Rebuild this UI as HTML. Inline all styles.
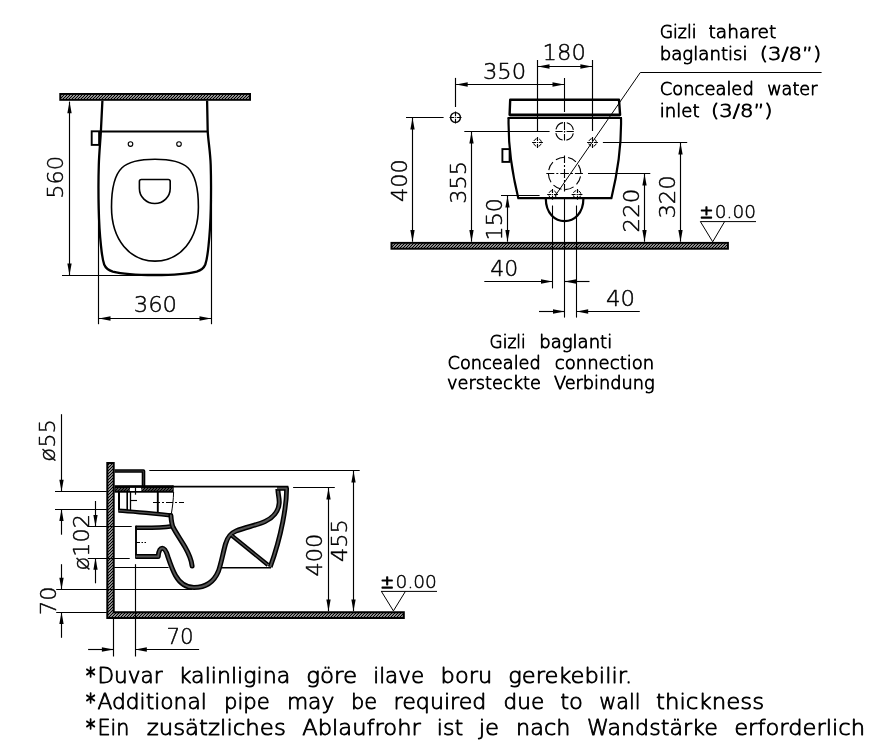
<!DOCTYPE html>
<html lang="tr">
<head>
<meta charset="utf-8">
<title>Technical drawing</title>
<style>
html,body{margin:0;padding:0;background:#fff;}
body{width:882px;height:754px;overflow:hidden;}
svg{display:block;will-change:transform;}
svg path,svg line,svg circle,svg ellipse{fill:none;stroke:#000;}
svg .ar{fill:#000;stroke:none;}
svg .t{font-family:"DejaVu Sans", "Liberation Sans", sans-serif;font-weight:200;fill:#000;stroke:#000;stroke-width:0.45px;stroke-linejoin:round;}
svg .l{stroke-width:0.85px;}
svg .a{stroke-width:1.5px;}
svg .b{stroke:#000;stroke-linejoin:round;}
svg .g{stroke:#545454;stroke-linejoin:round;}
</style>
</head>
<body>
<svg width="882" height="754" viewBox="0 0 882 754">
<defs>
<pattern id="h" width="3" height="3" patternUnits="userSpaceOnUse">
<rect width="3" height="3" fill="#fff" stroke="none"/>
<path d="M-1,4L4,-1M-1,1L1,-1M2,4L4,2" stroke="#000" stroke-width="1.25"/>
</pattern>
<pattern id="h2" width="3" height="3" patternUnits="userSpaceOnUse">
<rect width="3" height="3" fill="#8a8a8a" stroke="none"/>
<path d="M-1,4L4,-1M-1,1L1,-1M2,4L4,2" stroke="#000" stroke-width="1.3"/>
</pattern>
</defs>
<rect x="0" y="0" width="882" height="754" fill="#fff"/>
<g id="plan">
<rect x="60.25" y="93.95" width="189.80" height="5.90" fill="url(#h)" stroke="#000" stroke-width="1.9"/>
<path class="b" stroke-width="2.3" d="M102.4,100.8 C101.8,112 101.3,122 100.9,131 C100.4,141 99.2,152 98.8,165 C98.4,178 98.4,195 98.7,208 C99,222 99.9,236 101.0,246 C101.8,254 102.6,260 104.2,264.5 C105.8,268.5 108.5,270.3 112.8,271.6 C120,273.5 135,275 154.75,275 C174.5,275 189.5,273.5 196.7,271.6 C201,270.3 203.7,268.5 205.3,264.5 C206.9,260 207.7,254 208.5,246 C209.6,236 210.5,222 210.8,208 C211.1,195 211.1,178 210.7,165 C210.3,152 208.2,141 207.7,131 C207.5,122 207.3,112 207.1,100.8"/>
<path d="M100.90,131.40L207.70,131.40" stroke-width="2.0" />
<rect x="91.7" y="131.3" width="7.4" height="13.6" fill="#fff" stroke="#000" stroke-width="1.9"/>
<circle cx="130.5" cy="144.1" r="2.3" stroke-width="1.1"/>
<circle cx="179" cy="144.1" r="2.3" stroke-width="1.1"/>
<path stroke-width="1.6" d="M155,159.2 C125,159.2 111.5,166 111.5,207 C111.5,240 130,261.1 155,261.1 C180,261.1 198.4,240 198.4,207 C198.4,166 185,159.2 155,159.2 Z"/>
<path stroke-width="1.6" d="M141.4,179.5 H168.2 Q170.2,179.5 170.2,181.5 V188.5 A15.4,15 0 0 1 139.4,188.5 V181.5 Q139.4,179.5 141.4,179.5 Z"/>
<path d="M69.50,101.60L69.50,275.20" stroke-width="1.15" />
<path class="ar" d="M69.50,101.60L71.65,113.20L67.35,113.20Z"/>
<path class="ar" d="M69.50,275.20L67.35,263.60L71.65,263.60Z"/>
<path d="M62.00,275.50L152.00,275.50" stroke-width="1.15" />
<text class="t" font-size="22" transform="translate(63.20 198.80) rotate(-90)" x="0" y="0" textLength="43.00" lengthAdjust="spacingAndGlyphs">560</text>
<path d="M98.50,200.00L98.50,324.20" stroke-width="1.15" />
<path d="M211.50,200.00L211.50,324.20" stroke-width="1.15" />
<path d="M98.90,318.50L211.10,318.50" stroke-width="1.15" />
<path class="ar" d="M98.90,318.50L110.50,316.35L110.50,320.65Z"/>
<path class="ar" d="M211.10,318.50L199.50,320.65L199.50,316.35Z"/>
<text class="t" y="312.40" font-size="22"><tspan x="133.70" textLength="43.40" lengthAdjust="spacingAndGlyphs">360</tspan></text>
</g>
<g id="rear">
<rect x="391.45" y="242.85" width="336.50" height="5.90" fill="url(#h)" stroke="#000" stroke-width="1.9"/>
<path class="b" stroke-width="2.4" d="M510.2,99.7 H619.0 L620.1,114.8 H509.6 Z"/>
<path class="b" stroke-width="2.2" d="M508.6,117.9 C508.2,135 510.2,165 518.3,198.2 H611.4 C619.4,165 621.4,135 621.0,117.9" stroke-linejoin="miter"/>
<path d="M509.50,116.50L620.20,116.50" stroke-width="1.2" style="stroke:#999"/>
<path d="M507.60,117.90L622.00,117.90" stroke-width="2.0" />
<rect x="502.4" y="149.1" width="7.2" height="12.8" fill="#fff" stroke="#000" stroke-width="1.9"/>
<path class="b" stroke-width="2.2" d="M545.8,198.5 C545.8,228.6 583.4,228.6 583.4,198.5"/>
<circle cx="564.6" cy="131.4" r="8.9" stroke-width="1.1" stroke-dasharray="10.07 3.91" stroke-dashoffset="12.02"/>
<circle cx="564.6" cy="173.4" r="16.2" stroke-width="1.1" stroke-dasharray="8.91 3.82" stroke-dashoffset="9.67"/>
<circle cx="537.5" cy="142.5" r="3.9" stroke-width="1.0" stroke-dasharray="3.55 2.57" stroke-dashoffset="4.84"/>
<path d="M532.10,142.50L542.90,142.50" stroke-width="1.15" stroke-dasharray="4 1 0.8 1 4"/>
<path d="M537.50,137.10L537.50,147.90" stroke-width="1.15" stroke-dasharray="4 1 0.8 1 4"/>
<circle cx="592.5" cy="142.5" r="3.9" stroke-width="1.0" stroke-dasharray="3.55 2.57" stroke-dashoffset="4.84"/>
<path d="M587.10,142.50L597.90,142.50" stroke-width="1.15" stroke-dasharray="4 1 0.8 1 4"/>
<path d="M592.50,137.10L592.50,147.90" stroke-width="1.15" stroke-dasharray="4 1 0.8 1 4"/>
<circle cx="552.6" cy="194.4" r="3.9" stroke-width="1.0" stroke-dasharray="3.55 2.57" stroke-dashoffset="4.84"/>
<path d="M547.20,194.50L558.00,194.50" stroke-width="1.15" stroke-dasharray="4 1 0.8 1 4"/>
<path d="M552.50,189.00L552.50,199.80" stroke-width="1.15" stroke-dasharray="4 1 0.8 1 4"/>
<circle cx="577" cy="194.4" r="3.9" stroke-width="1.0" stroke-dasharray="3.55 2.57" stroke-dashoffset="4.84"/>
<path d="M571.60,194.50L582.40,194.50" stroke-width="1.15" stroke-dasharray="4 1 0.8 1 4"/>
<path d="M577.50,189.00L577.50,199.80" stroke-width="1.15" stroke-dasharray="4 1 0.8 1 4"/>
<path d="M555.40,131.50L573.80,131.50" stroke-width="1.1" stroke-dasharray="7.2 1.4 1.2 1.4 7.2"/>
<path d="M546.30,173.50L582.90,173.50" stroke-width="1.1" stroke-dasharray="8 2 2 2 8.6 2 2 2 8"/>
<circle cx="455.5" cy="117.5" r="4.9" stroke-width="1.4"/>
<path d="M449.50,117.50L461.50,117.50" stroke-width="1.15" stroke-dasharray="4.7 1 0.6 1 4.7"/>
<path d="M455.50,111.50L455.50,123.50" stroke-width="1.15" stroke-dasharray="4.7 1 0.6 1 4.7"/>
<path d="M564.50,78.00L564.50,112.00" stroke-width="1.1" />
<path d="M564.50,122.00L564.50,140.40" stroke-width="1.1" stroke-dasharray="8 1.4 1.2 1.4 8"/>
<path d="M564.50,155.50L564.50,191.50" stroke-width="1.1" stroke-dasharray="7.5 2 2 2 9 2 2 2 8"/>
<path d="M564.50,199.00L564.50,317.60" stroke-width="1.1" />
<path d="M552.50,205.50L552.50,288.40" stroke-width="1.1" />
<path d="M576.50,205.50L576.50,317.60" stroke-width="1.1" />
<path stroke-width="1" d="M821.6,72.5 H640.3 L555,196"/>
<path d="M537.50,60.00L537.50,131.50" stroke-width="1.15" />
<path d="M592.50,60.00L592.50,131.00" stroke-width="1.15" />
<path d="M537.90,66.50L592.00,66.50" stroke-width="1.15" />
<path class="ar" d="M537.90,66.50L549.50,64.35L549.50,68.65Z"/>
<path class="ar" d="M592.00,66.50L580.40,68.65L580.40,64.35Z"/>
<text class="t" y="60.30" font-size="22"><tspan x="542.60" textLength="43.20" lengthAdjust="spacingAndGlyphs">180</tspan></text>
<path d="M455.50,77.90L455.50,107.00" stroke-width="1.15" />
<path d="M456.10,84.50L564.10,84.50" stroke-width="1.15" />
<path class="ar" d="M456.10,84.50L467.70,82.35L467.70,86.65Z"/>
<path class="ar" d="M564.10,84.50L552.50,86.65L552.50,82.35Z"/>
<text class="t" y="78.60" font-size="22"><tspan x="482.90" textLength="43.30" lengthAdjust="spacingAndGlyphs">350</tspan></text>
<path d="M406.00,117.50L443.60,117.50" stroke-width="1.15" />
<path d="M412.50,117.80L412.50,241.70" stroke-width="1.15" />
<path class="ar" d="M412.50,117.80L414.65,129.40L410.35,129.40Z"/>
<path class="ar" d="M412.50,241.70L410.35,230.10L414.65,230.10Z"/>
<text class="t" font-size="22" transform="translate(407.40 201.90) rotate(-90)" x="0" y="0" textLength="42.70" lengthAdjust="spacingAndGlyphs">400</text>
<path d="M464.30,131.50L549.60,131.50" stroke-width="1.15" />
<path d="M471.50,132.00L471.50,241.70" stroke-width="1.15" />
<path class="ar" d="M471.50,132.00L473.65,143.60L469.35,143.60Z"/>
<path class="ar" d="M471.50,241.70L469.35,230.10L473.65,230.10Z"/>
<text class="t" font-size="22" transform="translate(466.00 203.70) rotate(-90)" x="0" y="0" textLength="42.50" lengthAdjust="spacingAndGlyphs">355</text>
<path d="M501.00,195.50L539.60,195.50" stroke-width="1.15" />
<path d="M507.50,195.90L507.50,241.70" stroke-width="1.15" />
<path class="ar" d="M507.50,195.90L509.65,207.50L505.35,207.50Z"/>
<path class="ar" d="M507.50,241.70L505.35,230.10L509.65,230.10Z"/>
<text class="t" font-size="22" transform="translate(502.00 240.40) rotate(-90)" x="0" y="0" textLength="42.40" lengthAdjust="spacingAndGlyphs">150</text>
<path d="M588.00,173.50L650.30,173.50" stroke-width="1.15" />
<path d="M644.50,173.90L644.50,241.70" stroke-width="1.15" />
<path class="ar" d="M644.50,173.90L646.65,185.50L642.35,185.50Z"/>
<path class="ar" d="M644.50,241.70L642.35,230.10L646.65,230.10Z"/>
<text class="t" font-size="22" transform="translate(639.00 232.40) rotate(-90)" x="0" y="0" textLength="43.60" lengthAdjust="spacingAndGlyphs">220</text>
<path d="M602.90,142.50L687.20,142.50" stroke-width="1.15" />
<path d="M680.50,143.00L680.50,241.70" stroke-width="1.15" />
<path class="ar" d="M680.50,143.00L682.65,154.60L678.35,154.60Z"/>
<path class="ar" d="M680.50,241.70L678.35,230.10L682.65,230.10Z"/>
<text class="t" font-size="22" transform="translate(675.30 218.60) rotate(-90)" x="0" y="0" textLength="43.40" lengthAdjust="spacingAndGlyphs">320</text>
<text class="t" y="217.80" font-size="17.8"><tspan class="a" x="699.80" textLength="13.40" lengthAdjust="spacingAndGlyphs">±</tspan><tspan x="714.80" textLength="41.10" lengthAdjust="spacingAndGlyphs">0.00</tspan></text>
<path stroke-width="1" d="M700.2,221.6 H756 M700.4,221.6 L712.7,241.8 L724.6,221.6"/>
<path d="M484.30,281.50L552.60,281.50" stroke-width="1.15" />
<path class="ar" d="M552.60,281.50L541.00,283.65L541.00,279.35Z"/>
<path d="M564.60,281.50L589.50,281.50" stroke-width="1.15" />
<path class="ar" d="M564.60,281.50L576.20,279.35L576.20,283.65Z"/>
<text class="t" y="276.10" font-size="22"><tspan x="490.20" textLength="28.00" lengthAdjust="spacingAndGlyphs">40</tspan></text>
<path d="M539.00,311.50L564.60,311.50" stroke-width="1.15" />
<path class="ar" d="M564.60,311.50L553.00,313.65L553.00,309.35Z"/>
<path d="M576.60,311.50L639.80,311.50" stroke-width="1.15" />
<path class="ar" d="M576.60,311.50L588.20,309.35L588.20,313.65Z"/>
<text class="t" y="305.80" font-size="22"><tspan x="606.10" textLength="29.00" lengthAdjust="spacingAndGlyphs">40</tspan></text>
<text class="t l" y="37.50" font-size="18.0"><tspan x="659.70" textLength="36.80" lengthAdjust="spacingAndGlyphs">Gizli</tspan> <tspan x="708.60" textLength="67.70" lengthAdjust="spacingAndGlyphs">taharet</tspan></text>
<text class="t l" y="59.70" font-size="18.0"><tspan x="659.70" textLength="87.90" lengthAdjust="spacingAndGlyphs">baglantisi</tspan> <tspan x="759.70" textLength="61.50" lengthAdjust="spacingAndGlyphs">(3/8”)</tspan></text>
<text class="t l" y="94.80" font-size="18.0"><tspan x="659.70" textLength="94.10" lengthAdjust="spacingAndGlyphs">Concealed</tspan> <tspan x="767.20" textLength="50.30" lengthAdjust="spacingAndGlyphs">water</tspan></text>
<text class="t l" y="117.30" font-size="18.0"><tspan x="659.70" textLength="39.80" lengthAdjust="spacingAndGlyphs">inlet</tspan> <tspan x="711.10" textLength="61.50" lengthAdjust="spacingAndGlyphs">(3/8”)</tspan></text>
<text class="t l" y="348.30" font-size="18.0"><tspan x="489.60" textLength="36.20" lengthAdjust="spacingAndGlyphs">Gizli</tspan> <tspan x="539.20" textLength="73.00" lengthAdjust="spacingAndGlyphs">baglanti</tspan></text>
<text class="t l" y="369.00" font-size="18.0"><tspan x="447.60" textLength="93.20" lengthAdjust="spacingAndGlyphs">Concealed</tspan> <tspan x="554.80" textLength="99.40" lengthAdjust="spacingAndGlyphs">connection</tspan></text>
<text class="t l" y="389.40" font-size="18.0"><tspan x="447.10" textLength="93.70" lengthAdjust="spacingAndGlyphs">versteckte</tspan> <tspan x="553.90" textLength="100.80" lengthAdjust="spacingAndGlyphs">Verbindung</tspan></text>
</g>
<g id="section">
<path d="M107.3,463.1 H113.7 V612.2 H403.8 V618.1 H107.3 Z" style="fill:url(#h)" stroke="#000" stroke-width="2"/>
<path class="b" stroke-width="3.6" stroke-linecap="butt" d="M114.5,471 H143.5 V486"/>
<path class="g" stroke-width="0.6000000000000001" stroke-linecap="butt" d="M114.5,471 H143.5 V486"/>
<rect x="114.5" y="485.2" width="59.2" height="7.5" fill="#000" stroke="none"/>
<rect x="115.5" y="488.0" width="57.2" height="2.7" fill="url(#h2)" stroke="none"/>
<rect x="130" y="487.9" width="11.2" height="3.1" fill="#fff" stroke="none"/>
<path d="M135.50,487.50L135.50,494.70" stroke-width="1.2" />
<path d="M172.00,486.60L288.30,486.60" stroke-width="1.9" />
<path d="M119.00,492.00L119.00,511.50" stroke-width="2.0" />
<path d="M127.20,492.00L127.20,510.50" stroke-width="1.6" />
<path d="M130.50,492.00L130.50,510.50" stroke-width="1.3" />
<path d="M157.80,492.00L157.80,513.50" stroke-width="1.9" />
<path stroke-width="1.0" d="M173.6,492 C173.4,500 172.6,506 171.4,513.5"/>
<path d="M130.00,500.50L137.00,500.50" stroke-width="1.15" />
<path d="M153.00,502.50L184.00,502.50" stroke-width="1.1" stroke-dasharray="7 2 2 2"/>
<path d="M136.00,542.50L146.00,542.50" stroke-width="1.15" stroke-dasharray="4 1.5 1.5 1.5"/>
<path class="b" stroke-width="4.3" stroke-linecap="butt" d="M118.4,510.6 C135,511.6 152,513.4 171,515.4"/>
<path class="g" stroke-width="1.2999999999999998" stroke-linecap="butt" d="M118.4,510.6 C135,511.6 152,513.4 171,515.4"/>
<path class="b" stroke-width="4.6" stroke-linecap="butt" d="M135.6,527.7 C150,527.9 162,527.7 172,526.2"/>
<path class="g" stroke-width="1.5999999999999996" stroke-linecap="butt" d="M135.6,527.7 C150,527.9 162,527.7 172,526.2"/>
<path d="M136.00,525.70L136.00,558.40" stroke-width="1.9" />
<path class="b" stroke-width="5.0" stroke-linecap="butt" d="M135.6,556.6 H158.2 C158.6,551 160,548.3 162.3,548.3 C165,548.3 166.5,552 168,557 C170,563 172.5,570 175.5,575.5 C180,583.5 186,587.5 194,587.5 C205,587.5 214,582 218.5,571 C221,564 223,553 225.5,544 C227.5,537 230,533.5 236,531 C246,527 256,525.5 265,521.5 C273,518 278.6,511 279.2,503 C279.5,498 277.9,494.5 277.9,489"/>
<path class="g" stroke-width="2.0" stroke-linecap="butt" d="M135.6,556.6 H158.2 C158.6,551 160,548.3 162.3,548.3 C165,548.3 166.5,552 168,557 C170,563 172.5,570 175.5,575.5 C180,583.5 186,587.5 194,587.5 C205,587.5 214,582 218.5,571 C221,564 223,553 225.5,544 C227.5,537 230,533.5 236,531 C246,527 256,525.5 265,521.5 C273,518 278.6,511 279.2,503 C279.5,498 277.9,494.5 277.9,489"/>
<path class="b" stroke-width="5.0" stroke-linecap="round" d="M170.9,515.6 C171.2,520 171.6,524 173.2,527.5 C176,533 181,540 185,547 C189,554 191.5,560 192.1,566"/>
<path class="g" stroke-width="2.0" stroke-linecap="round" d="M170.9,515.6 C171.2,520 171.6,524 173.2,527.5 C176,533 181,540 185,547 C189,554 191.5,560 192.1,566"/>
<path class="b" stroke-width="4.9" stroke-linecap="butt" d="M277,488.4 H286.6 C286.6,505 281.8,535 270.2,567"/>
<path class="g" stroke-width="1.9000000000000004" stroke-linecap="butt" d="M277,488.4 H286.6 C286.6,505 281.8,535 270.2,567"/>
<path class="b" stroke-width="4.2" stroke-linecap="butt" d="M231.5,535.3 L268,565"/>
<path class="g" stroke-width="1.2000000000000002" stroke-linecap="butt" d="M231.5,535.3 L268,565"/>
<path d="M222.00,567.80L271.00,567.80" stroke-width="1.6" />
<path d="M114.30,567.50L168.60,567.50" stroke-width="1.2" />
<path d="M149.30,470.50L359.70,470.50" stroke-width="1.15" />
<path d="M353.50,471.00L353.50,611.20" stroke-width="1.15" />
<path class="ar" d="M353.50,471.00L355.65,482.60L351.35,482.60Z"/>
<path class="ar" d="M353.50,611.20L351.35,599.60L355.65,599.60Z"/>
<text class="t" font-size="22" transform="translate(347.00 562.00) rotate(-90)" x="0" y="0" textLength="42.90" lengthAdjust="spacingAndGlyphs">455</text>
<path d="M293.10,487.50L334.80,487.50" stroke-width="1.15" />
<path d="M328.50,487.90L328.50,611.20" stroke-width="1.15" />
<path class="ar" d="M328.50,487.90L330.65,499.50L326.35,499.50Z"/>
<path class="ar" d="M328.50,611.20L326.35,599.60L330.65,599.60Z"/>
<text class="t" font-size="22" transform="translate(321.90 576.40) rotate(-90)" x="0" y="0" textLength="42.70" lengthAdjust="spacingAndGlyphs">400</text>
<text class="t" y="587.70" font-size="17.8"><tspan class="a" x="380.60" textLength="13.40" lengthAdjust="spacingAndGlyphs">±</tspan><tspan x="395.60" textLength="41.30" lengthAdjust="spacingAndGlyphs">0.00</tspan></text>
<path stroke-width="1" d="M381,591.4 H437 M381.4,591.4 L393.4,610.9 L405.4,591.4"/>
<path d="M61.50,414.20L61.50,491.30" stroke-width="1.15" />
<path class="ar" d="M61.50,491.30L59.35,479.70L63.65,479.70Z"/>
<path d="M55.00,491.50L106.80,491.50" stroke-width="1.15" />
<path d="M55.00,509.50L106.80,509.50" stroke-width="1.15" />
<path d="M61.50,509.30L61.50,534.70" stroke-width="1.15" />
<path class="ar" d="M61.50,509.30L63.65,520.90L59.35,520.90Z"/>
<text class="t" font-size="22" transform="translate(54.90 461.70) rotate(-90)" x="0" y="0" textLength="42.70" lengthAdjust="spacingAndGlyphs">ø55</text>
<path d="M95.50,501.00L95.50,526.50" stroke-width="1.15" />
<path class="ar" d="M95.50,526.50L93.35,514.90L97.65,514.90Z"/>
<path d="M87.80,526.50L131.70,526.50" stroke-width="1.15" />
<path d="M87.80,558.50L129.70,558.50" stroke-width="1.15" />
<path d="M95.50,558.10L95.50,583.30" stroke-width="1.15" />
<path class="ar" d="M95.50,558.10L97.65,569.70L93.35,569.70Z"/>
<text class="t" font-size="22" transform="translate(89.00 570.40) rotate(-90)" x="0" y="0" textLength="56.30" lengthAdjust="spacingAndGlyphs">ø102</text>
<path d="M61.50,564.20L61.50,589.40" stroke-width="1.15" />
<path class="ar" d="M61.50,589.40L59.35,577.80L63.65,577.80Z"/>
<path d="M56.20,589.50L192.00,589.50" stroke-width="1.15" />
<path d="M56.20,612.50L106.80,612.50" stroke-width="1.15" />
<path d="M61.50,612.30L61.50,637.80" stroke-width="1.15" />
<path class="ar" d="M61.50,612.30L63.65,623.90L59.35,623.90Z"/>
<text class="t" font-size="22" transform="translate(55.70 615.10) rotate(-90)" x="0" y="0" textLength="28.50" lengthAdjust="spacingAndGlyphs">70</text>
<path d="M113.50,618.60L113.50,656.50" stroke-width="1.15" />
<path d="M135.50,564.20L135.50,656.50" stroke-width="1.15" />
<path d="M88.10,649.50L113.50,649.50" stroke-width="1.15" />
<path class="ar" d="M113.50,649.50L101.90,651.65L101.90,647.35Z"/>
<path d="M135.20,649.50L199.10,649.50" stroke-width="1.15" />
<path class="ar" d="M135.20,649.50L146.80,647.35L146.80,651.65Z"/>
<text class="t" y="644.00" font-size="22"><tspan x="166.40" textLength="27.30" lengthAdjust="spacingAndGlyphs">70</tspan></text>
</g>
<g id="notes">
<text class="t l" y="682.70" font-size="21.7"><tspan class="a" x="86.10" textLength="9.30" lengthAdjust="spacingAndGlyphs">*</tspan><tspan x="97.40" textLength="65.20" lengthAdjust="spacingAndGlyphs">Duvar</tspan> <tspan x="178.70" textLength="111.50" lengthAdjust="spacingAndGlyphs">kalinligina</tspan> <tspan x="306.20" textLength="50.90" lengthAdjust="spacingAndGlyphs">göre</tspan> <tspan x="373.20" textLength="50.90" lengthAdjust="spacingAndGlyphs">ilave</tspan> <tspan x="440.60" textLength="51.60" lengthAdjust="spacingAndGlyphs">boru</tspan> <tspan x="508.20" textLength="123.90" lengthAdjust="spacingAndGlyphs">gerekebilir.</tspan></text>
<text class="t l" y="708.90" font-size="21.7"><tspan class="a" x="86.10" textLength="9.30" lengthAdjust="spacingAndGlyphs">*</tspan><tspan x="97.40" textLength="109.40" lengthAdjust="spacingAndGlyphs">Additional</tspan> <tspan x="224.00" textLength="45.80" lengthAdjust="spacingAndGlyphs">pipe</tspan> <tspan x="286.90" textLength="47.50" lengthAdjust="spacingAndGlyphs">may</tspan> <tspan x="351.10" textLength="26.10" lengthAdjust="spacingAndGlyphs">be</tspan> <tspan x="393.60" textLength="92.80" lengthAdjust="spacingAndGlyphs">required</tspan> <tspan x="503.50" textLength="40.70" lengthAdjust="spacingAndGlyphs">due</tspan> <tspan x="560.20" textLength="22.80" lengthAdjust="spacingAndGlyphs">to</tspan> <tspan x="599.20" textLength="41.40" lengthAdjust="spacingAndGlyphs">wall</tspan> <tspan x="656.00" textLength="108.10" lengthAdjust="spacingAndGlyphs">thickness</tspan></text>
<text class="t l" y="734.80" font-size="21.7"><tspan class="a" x="86.10" textLength="9.30" lengthAdjust="spacingAndGlyphs">*</tspan><tspan x="97.40" textLength="31.90" lengthAdjust="spacingAndGlyphs">Ein</tspan> <tspan x="146.70" textLength="139.10" lengthAdjust="spacingAndGlyphs">zusätzliches</tspan> <tspan x="302.20" textLength="118.60" lengthAdjust="spacingAndGlyphs">Ablaufrohr</tspan> <tspan x="436.80" textLength="26.40" lengthAdjust="spacingAndGlyphs">ist</tspan> <tspan x="478.70" textLength="20.30" lengthAdjust="spacingAndGlyphs">je</tspan> <tspan x="516.10" textLength="54.30" lengthAdjust="spacingAndGlyphs">nach</tspan> <tspan x="587.00" textLength="130.80" lengthAdjust="spacingAndGlyphs">Wandstärke</tspan> <tspan x="734.20" textLength="130.90" lengthAdjust="spacingAndGlyphs">erforderlich</tspan></text>
</g>
</svg>
</body>
</html>
